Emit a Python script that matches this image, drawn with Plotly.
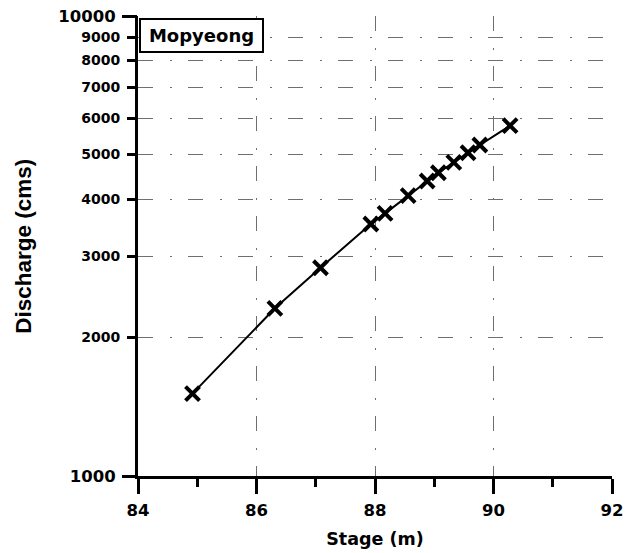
import plotly.graph_objects as go

# Rating-curve observations at the Mopyeong station
stage_m = [84.92, 86.31, 87.08, 87.93, 88.17, 88.56, 88.88, 89.07, 89.33, 89.57, 89.77, 90.28]
discharge_cms = [1510, 2315, 2836, 3530, 3724, 4068, 4378, 4563, 4808, 5044, 5243, 5775]

station_name = "Mopyeong"
x_title = "Stage (m)"
y_title = "Discharge (cms)"
x_ticks = [84, 86, 88, 90, 92]
y_small_ticks = [2000, 3000, 4000, 5000, 6000, 7000, 8000, 9000]
y_decade_ticks = [1000, 10000]

WIDE = "DejaVu Sans, Verdana, sans-serif"
NARROW = "Liberation Sans, Arial, sans-serif"
GRID_COLOR = "#6f6f6f"
GRID_DASH = "15px,17px,2px,16px"

fig = go.Figure()
fig.add_trace(go.Scatter(
    x=stage_m, y=discharge_cms, mode="lines+markers",
    line=dict(color="black", width=2),
    marker=dict(symbol="x-thin", size=14, color="black",
                line=dict(color="black", width=4)),
    showlegend=False,
))

# Invisible companion trace so the decade-tick axis is rendered
fig.add_trace(go.Scatter(x=[stage_m[0]], y=[discharge_cms[0]], yaxis="y2",
                         mode="markers", marker=dict(opacity=0),
                         hoverinfo="skip", showlegend=False))

fig.update_layout(
    width=635, height=553,
    margin=dict(l=138, r=23, t=16, b=77, autoexpand=False),
    paper_bgcolor="white", plot_bgcolor="white",
    font=dict(family=WIDE, color="black", weight="bold"),
    xaxis=dict(
        range=[84, 92], tickvals=x_ticks, automargin=False,
        ticks="outside", ticklen=15, tickwidth=3, tickcolor="black",
        minor=dict(dtick=1, tick0=84, ticks="outside", ticklen=8,
                   tickwidth=3, tickcolor="black", showgrid=False),
        showline=True, linecolor="black", linewidth=3,
        showgrid=True, gridcolor=GRID_COLOR, gridwidth=1, griddash=GRID_DASH,
        zeroline=False,
        tickfont=dict(size=16.5, family=WIDE, weight="bold"),
        ticklabelstandoff=2,
        title=dict(text=x_title, standoff=14,
                   font=dict(size=17.5, family=WIDE, weight="bold")),
    ),
    yaxis=dict(
        type="log", range=[3, 4], automargin=False,
        tickvals=y_small_ticks, ticktext=[str(v) for v in y_small_ticks],
        ticks="outside", ticklen=8, tickwidth=3, tickcolor="black",
        showline=True, linecolor="black", linewidth=3,
        showgrid=True, gridcolor=GRID_COLOR, gridwidth=1, griddash=GRID_DASH,
        zeroline=False,
        tickfont=dict(size=14, family=WIDE, weight="bold"),
        ticklabelstandoff=4,
    ),
    yaxis2=dict(
        type="log", range=[3, 4], overlaying="y", anchor="x", side="left",
        automargin=False,
        tickvals=y_decade_ticks, ticktext=[str(v) for v in y_decade_ticks],
        ticks="outside", ticklen=15, tickwidth=3, tickcolor="black",
        showline=False,
        showgrid=True, gridcolor=GRID_COLOR, gridwidth=1, griddash=GRID_DASH,
        zeroline=False,
        tickfont=dict(size=16.5, family=WIDE, weight="bold"),
        ticklabelstandoff=3,
    ),
)

# Vertical axis title
fig.add_annotation(
    text=y_title, xref="paper", yref="paper", x=-0.243, y=0.5,
    xanchor="center", yanchor="middle", textangle=-90, showarrow=False,
    font=dict(size=22.5, family=NARROW, color="black", weight="bold"),
)

# Station label box in the upper-left corner
fig.add_annotation(
    text=station_name, xref="paper", yref="paper", x=0.0015, y=0.996,
    xanchor="left", yanchor="top", showarrow=False,
    font=dict(size=18, family=WIDE, color="black", weight="bold"),
    bgcolor="white", bordercolor="black", borderwidth=2,
    width=119, height=29, borderpad=1,
)

fig.write_html("out.html")
